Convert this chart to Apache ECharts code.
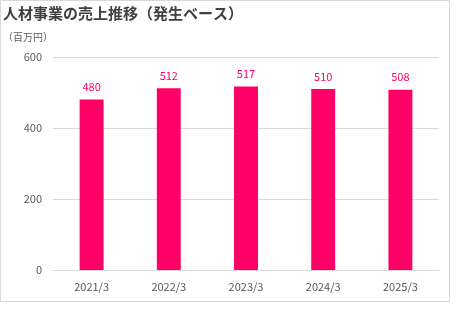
<!DOCTYPE html>
<html><head><meta charset="utf-8">
<script src="https://cdn.jsdelivr.net/npm/echarts@6/dist/echarts.min.js"></script>
<style>html,body{margin:0;padding:0;background:#fff}#c{width:461px;height:329px}</style>
</head><body><div id="c"></div>
<script>
const categories = ['2021/3','2022/3','2023/3','2024/3','2025/3'];
const sales = [480, 512, 517, 510, 508];
const yTicks = [0, 200, 400, 600];
const chart = echarts.init(document.getElementById('c'));
const font = '"Noto Sans CJK JP", "Noto Sans", sans-serif';
chart.setOption({
  animation: false,
  textStyle: { fontFamily: font },
  graphic: [{
    type: 'rect', shape: { x: 0.5, y: 0.5, width: 449, height: 301 },
    style: { fill: 'none', stroke: '#d9d9d9', lineWidth: 1 }, silent: true
  }],
  title: [{
    text: '人材事業の売上推移（発生ベース）', left: 3, top: 6, padding: 0,
    textStyle: { fontSize: 15, fontWeight: 'bold', color: '#404040', fontFamily: font }
  }, {
    text: '（百万円）', left: 3, top: 32, padding: 0,
    textStyle: { fontSize: 10, fontWeight: 'normal', color: '#595959', fontFamily: font }
  }],
  grid: { left: 53, right: 22, top: 57, bottom: 59 },
  xAxis: {
    type: 'category', data: categories,
    axisLine: { lineStyle: { color: '#d9d9d9' } },
    axisTick: { show: false },
    axisLabel: { color: '#595959', fontSize: 11, margin: 11, fontFamily: font }
  },
  yAxis: {
    type: 'value', min: yTicks[0], max: yTicks[yTicks.length - 1], interval: 200,
    axisLine: { show: false }, axisTick: { show: false },
    axisLabel: { color: '#595959', fontSize: 11, margin: 11, fontFamily: font },
    splitLine: { lineStyle: { color: '#d9d9d9' } }
  },
  series: [{
    type: 'bar', data: sales, barWidth: '31%',
    itemStyle: { color: '#FF0066' },
    label: { show: true, position: 'top', distance: 7, color: '#FF0066', fontSize: 11, fontFamily: font }
  }]
});
</script></body></html>
